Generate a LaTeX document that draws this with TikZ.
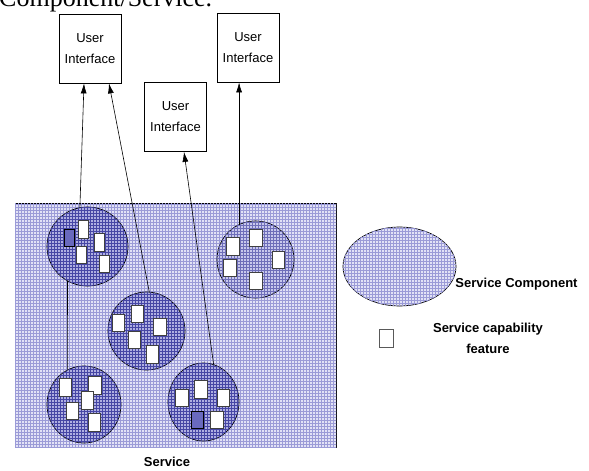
\documentclass[tikz,border=0pt]{standalone}
\usepackage{fontspec}
\setmainfont{Liberation Serif}
\newfontfamily\arialfont{Liberation Sans}
\usetikzlibrary{shapes.geometric,arrows.meta,patterns,calc}
\definecolor{bgfill}{RGB}{226,226,246}
\definecolor{bgline}{RGB}{155,155,215}
\definecolor{compfill}{RGB}{175,175,225}
\definecolor{compline}{RGB}{70,70,165}
\definecolor{lightcompfill}{RGB}{200,200,236}
\definecolor{lightcompline}{RGB}{110,110,185}
\definecolor{darkfeat}{RGB}{105,105,190}
\begin{document}
\begin{tikzpicture}[x=1pt,y=-1pt,
  uibox/.style={draw, line width=0.8pt, minimum width=62pt, minimum height=69pt, inner sep=0pt, align=center, font=\arialfont\fontsize{13}{21}\selectfont},
  comp/.style={ellipse, draw, line width=0.7pt, inner sep=0pt, fill=compfill, postaction={pattern=grid, pattern color=compline}},
  lcomp/.style={ellipse, draw, line width=0.7pt, inner sep=0pt, fill=lightcompfill, postaction={pattern=grid, pattern color=lightcompline}},
  feat/.style={draw=black!75, line width=1pt, fill=white, minimum width=12.5pt, minimum height=17.5pt, inner sep=0pt},
  nfeat/.style={feat, minimum width=10pt},
  dfeat/.style={draw=black, line width=1pt, fill=darkfeat, minimum width=12.5pt, minimum height=17.5pt, inner sep=0pt},
  lbl/.style={font=\arialfont\bfseries\fontsize{13}{21}\selectfont, inner sep=0pt, align=center},
  arr/.style={-{Latex[length=10pt,width=6pt]}, line width=0.6pt},
  conn/.style={line width=0.6pt}
]
\useasboundingbox (0,0) rectangle (589,471);

% caption fragment cut by the top edge
\node[anchor=base west, inner sep=0pt, font=\fontsize{26}{30}\selectfont] (cap) at (-1,6.5) {Component/Service.};

% service area
\node[draw, line width=0.8pt, fill=bgfill, postaction={pattern=grid, pattern color=bgline}, minimum width=321pt, minimum height=244pt, inner sep=0pt] (svc) at (175.5,325) {};
\node[lbl] (svclbl) at (167,462) {Service};

% user interfaces
\node[uibox] (ui1) at (90,48.5) {User\\Interface};
\node[uibox] (ui2) at (175.5,117) {User\\Interface};
\node[uibox] (ui3) at (248,47.5) {User\\Interface};

% service components
\node[comp, minimum width=81pt, minimum height=79pt] (c1) at (87.5,246.5) {};
\node[lcomp, minimum width=77pt, minimum height=77pt] (c2) at (255.5,259.5) {};
\node[comp, minimum width=77pt, minimum height=78pt] (c3) at (146.5,331) {};
\node[comp, minimum width=74pt, minimum height=77pt] (c4) at (84,404.5) {};
\node[comp, minimum width=71pt, minimum height=78pt] (c5) at (203.5,402) {};

% capability features
\node[dfeat, minimum width=10pt] (f11) at (69,238) {};
\node[nfeat] (f12) at (83.3,229.5) {};
\node[nfeat] (f13) at (99.7,242.5) {};
\node[nfeat] (f14) at (81,255.2) {};
\node[nfeat] (f15) at (104.7,263.8) {};

\node[feat] (f21) at (233,246.5) {};
\node[feat] (f22) at (256,238) {};
\node[feat] (f23) at (230,268) {};
\node[feat] (f24) at (278.3,260) {};
\node[feat] (f25) at (256,281) {};

\node[feat] (f31) at (118.5,323) {};
\node[feat] (f32) at (137.5,314) {};
\node[feat] (f33) at (160,327) {};
\node[feat] (f34) at (134.5,340) {};
\node[feat] (f35) at (152.5,354.5) {};

\node[feat] (f41) at (65.5,387.5) {};
\node[feat] (f42) at (95,385.5) {};
\node[feat] (f43) at (87.5,400.5) {};
\node[feat] (f44) at (72.5,411) {};
\node[feat] (f45) at (94.5,422.5) {};

\node[feat] (f51) at (182,398) {};
\node[feat] (f52) at (201,389.5) {};
\node[feat] (f53) at (223.7,398) {};
\node[dfeat] (f54) at (197.7,420) {};
\node[feat] (f55) at (217,420) {};

% connectors
\draw[arr] (c1.101) -- ($(ui1.south)+(-6,0)$);
\draw[arr] (c3.86) -- ($(ui1.south)+(19,0)$);
\draw[arr] (c5.75) -- ($(ui2.south)+(8.5,0)$);
\coordinate (c2t) at (c2.115);
\draw[arr] (c2t) -- (c2t |- ui3.south);
\draw[conn] (c1.240) -- (c4.115);

% legend
\node[lcomp, fill=bgfill, postaction={pattern=grid, pattern color=bgline}, minimum width=113pt, minimum height=79pt] (lgc) at (399.5,266.5) {};
\node[lbl] (lgclbl) at (516.5,284) {Service Component};
\node[draw=black!65, line width=0.8pt, fill=white, minimum width=14pt, minimum height=18pt, inner sep=0pt] (lgf) at (386,338) {};
\node[lbl] (lgflbl) at (488,338.5) {Service capability\\feature};
\end{tikzpicture}
\end{document}
